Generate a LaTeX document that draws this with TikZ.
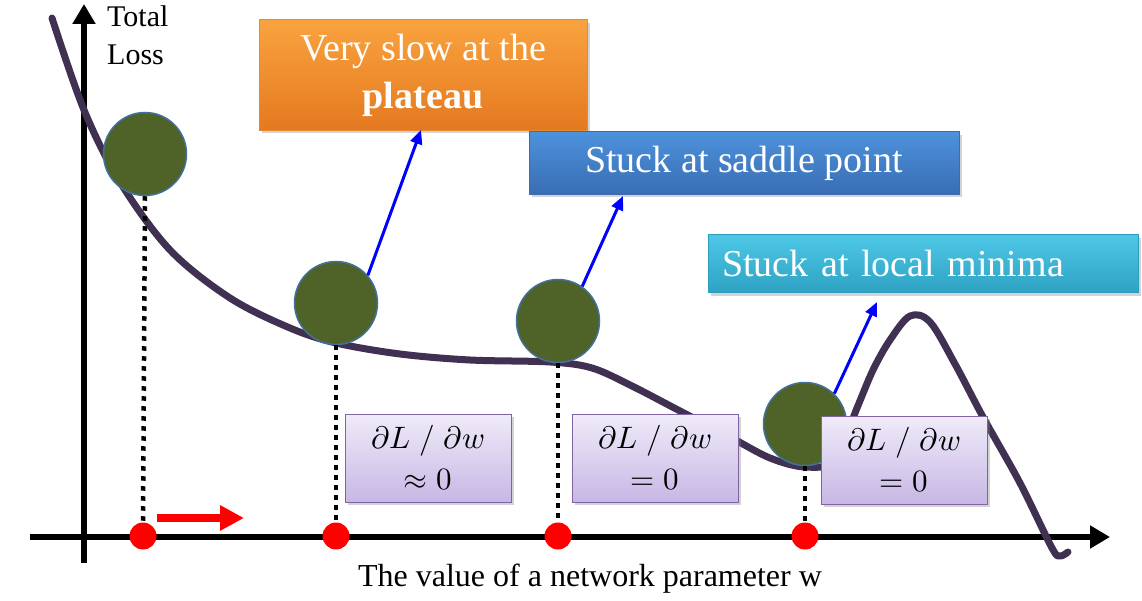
\documentclass[tikz,border=0pt]{standalone}
\usepackage{amsmath}
\usepackage{fontspec}
\usepackage{unicode-math}
\setmainfont{Liberation Serif}
\setmathfont{Latin Modern Math}
\usepackage{xcolor}
\usepackage{tikz}
\usetikzlibrary{arrows.meta,shadows}

\definecolor{ballgreen}{HTML}{4F6228}
\definecolor{ballrim}{HTML}{41719C}
\definecolor{lossline}{HTML}{403152}
\definecolor{derivtop}{HTML}{F0EBF9}
\definecolor{derivbot}{HTML}{C7B7E5}
\definecolor{derivrim}{HTML}{8064A2}
\definecolor{orangetop}{HTML}{F9A33F}
\definecolor{orangebot}{HTML}{E4791F}
\definecolor{orangerim}{HTML}{E88A30}
\definecolor{bluetop}{HTML}{4D92DC}
\definecolor{bluebot}{HTML}{396DB3}
\definecolor{bluerim}{HTML}{3A6DAE}
\definecolor{cyantop}{HTML}{4EC7E6}
\definecolor{cyanbot}{HTML}{2EA2C3}
\definecolor{cyanrim}{HTML}{2F9DBC}

\begin{document}
\begin{tikzpicture}[x=1pt,y=-1pt,
  font=\fontsize{38}{48}\selectfont,
  ball/.style={circle,draw=ballrim,line width=1.5pt,fill=ballgreen,minimum size=83pt,inner sep=0pt},
  dot/.style={circle,fill=red,minimum size=27pt,inner sep=0pt},
  axis/.style={line width=6pt,-{Triangle[length=20pt,width=22pt]}},
  loss/.style={draw=lossline,line width=7pt,line cap=round,line join=round},
  vline/.style={line width=4.5pt,dash pattern=on 4.5pt off 5.5pt},
  push/.style={blue,line width=3pt,-{Triangle[length=14pt,width=12pt]}},
  shade/.style={drop shadow={shadow xshift=3pt,shadow yshift=-3pt,opacity=0.35}},
  msg/.style={shade,text=white,line width=1pt,inner sep=14pt,align=center},
  deriv/.style={shade,draw=derivrim,line width=1pt,top color=derivtop,bottom color=derivbot,
    minimum width=166pt,minimum height=88pt,align=center,font=\fontsize{31}{41}\selectfont}]
  \useasboundingbox (0,0) rectangle (1142,601);

  % axes
  \coordinate (xs) at (30,537); \coordinate (xe) at (1110,537);
  \coordinate (ys) at (84,563); \coordinate (ye) at (84,4);
  \draw[axis] (xs) -- (xe);
  \draw[axis] (ys) -- (ye);
  \node[anchor=north west,inner sep=0pt,align=left,font=\fontsize{30}{38}\selectfont] (ylab) at (107,5) {Total\\Loss};
  \node[font=\fontsize{32}{38}\selectfont] (xlab) at (590,579) {The value of a network parameter w};

  % loss curve
  \draw[loss] plot[smooth,tension=0.55] coordinates {(52,18) (84,110) (120,182) (170,250) (230,298)
    (290,328) (336,343) (400,354) (470,360) (550,362) (592,368) (632,386) (680,411) (730,437)
    (770,458) (805,467) (835,460) (857,408) (873,370) (890,340) (910,316) (930,322) (955,364)
    (983,417) (1020,483) (1052,548) (1060,556) (1068,552)};

  % balls and positions on w
  \node[ball] (b1) at (145,154) {};
  \node[ball] (b2) at (336,303) {};
  \node[ball] (b3) at (558,321) {};
  \node[ball] (b4) at (805,424) {};
  \node[dot] (d1) at (143,536) {};
  \node[dot] (d2) at (336,536) {};
  \node[dot] (d3) at (558,536) {};
  \node[dot] (d4) at (805,536) {};
  \draw[vline] (b1.south) -- (d1.north);
  \draw[vline] (b2.south) -- (d2.north);
  \draw[vline] (b3.south) -- (d3.north);
  \draw[vline] (b4.south) -- (d4.north);

  % red arrow
  \coordinate (ra) at (157,518); \coordinate (rb) at (244,518);
  \draw[red,line width=8pt,-{Triangle[length=24pt,width=24pt]}] (ra) -- (rb);

  % messages
  \node[msg,draw=orangerim,top color=orangetop,bottom color=orangebot,
    minimum width=328pt,minimum height=105pt] (plateau) at (423,75) {Very slow at the\\\textbf{plateau}};
  \node[msg,draw=bluerim,top color=bluetop,bottom color=bluebot,
    minimum width=430pt,minimum height=59pt] (saddle) at (744,163) {Stuck at saddle point};
  \node[msg,draw=cyanrim,top color=cyantop,bottom color=cyanbot,
    text width=402pt,align=left,minimum height=58pt] (local) at (923,264) {Stuck at local minima};

  % gradients
  \node[deriv] (g1) at (428,458) {$\partial L\;/\;\partial w$\\$\approx 0$};
  \node[deriv] (g2) at (655,458) {$\partial L\;/\;\partial w$\\$= 0$};
  \node[deriv] (g3) at (904,460) {$\partial L\;/\;\partial w$\\$= 0$};

  % blue arrows
  \coordinate (t2) at (421,130); \coordinate (t3) at (623,196); \coordinate (t4) at (877,302);
  \draw[push] (b2.41) -- (t2);
  \draw[push] (b3.55) -- (t3);
  \draw[push] (b4.46) -- (t4);
\end{tikzpicture}
\end{document}
